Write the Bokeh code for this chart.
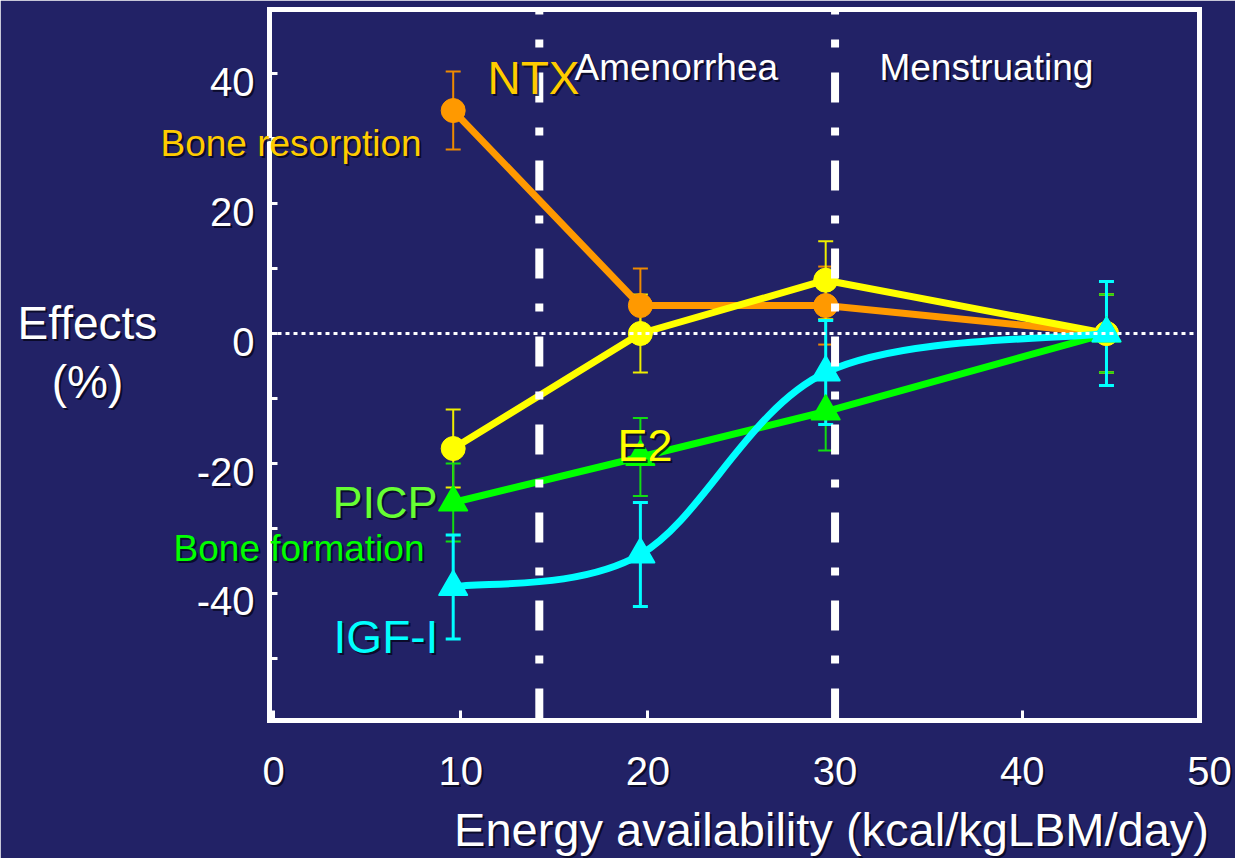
import numpy as np
from bokeh.plotting import figure
from bokeh.layouts import column
from bokeh.models import Range1d, LinearAxis, FixedTicker, Span, Label, ColumnDataSource
from bokeh.embed import file_html
from bokeh.resources import INLINE

# ---------------- data ----------------
energy = [9.6, 19.6, 29.5, 44.5]          # energy availability (kcal/kgLBM/day)
ntx = [34.3, 4.3, 4.3, 0.0]               # NTX (bone resorption) %
ntx_err = [6.0, 5.7, 6.0, 6.0]
e2 = [-17.7, 0.0, 8.2, 0.0]               # E2 %
e2_err = [6.0, 6.0, 6.0, 6.0]
picp = [-26.0, -19.0, -12.0, 0.0]         # PICP (bone formation) %
picp_err = [6.0, 6.0, 6.0, 6.0]
igf1 = [-39.0, -34.0, -6.0, 0.0]          # IGF-I %
igf1_err = [8.0, 8.0, 8.0, 8.0]

phase_bounds = [14.2, 30.0]
phase_labels = ["Amenorrhea", "Menstruating"]
x_ticks = [0, 10, 20, 30, 40, 50]
y_ticks = [-40, -20, 0, 20, 40]
y_minor = [-50, -30, -10, 10, 30]

BG = "#222266"
FONT = "Liberation Sans"
WHITE = "#FFFFFF"
ORANGE = "#FF9900"
YELLOW = "#FFFF00"
GREEN = "#00FF00"
CYAN = "#00FFFF"
SHADOW = "#05051A"

W, H = 1235, 858
BL, BR, BT, BB = 269, 36, 9, 138
X0, X1 = -0.214, 49.47
Y0, Y1 = -59.54, 49.85
XSTAND = 36

p = figure(width=W, height=H,
           x_range=Range1d(X0, X1), y_range=Range1d(Y0, Y1),
           output_backend="svg", toolbar_location=None,
           min_border_left=BL, min_border_right=BR,
           min_border_top=BT, min_border_bottom=BB,
           background_fill_color=BG, border_fill_color=BG,
           outline_line_color=None)
p.grid.visible = False
p.frame_align = False

# data -> canvas pixel (from top-left), used to place texts in the overlay
def px(x):
    return BL + (x - X0) * (W - BL - BR) / (X1 - X0)

def py(y):
    return BT + (Y1 - y) * (H - BT - BB) / (Y1 - Y0)

# ---------------- axes (lines and ticks; tick labels drawn in the overlay) ----------------
xa = p.xaxis[0]
xa.ticker = FixedTicker(ticks=x_ticks[:-1], minor_ticks=[])
ya = p.yaxis[0]
ya.ticker = FixedTicker(ticks=y_ticks, minor_ticks=y_minor)
for ax in (xa, ya):
    ax.axis_line_color = WHITE
    ax.axis_line_width = 5
    ax.axis_line_cap = "square"
    ax.major_tick_line_color = WHITE
    ax.minor_tick_line_color = WHITE
    ax.major_tick_line_width = 3
    ax.minor_tick_line_width = 3
    ax.major_tick_out = 0
    ax.minor_tick_out = 0
    ax.major_label_text_color = None
xa.major_tick_in = 10
ya.major_tick_in = 8
ya.minor_tick_in = 8

for side in ("above", "right"):
    ax = LinearAxis(ticker=FixedTicker(ticks=[], minor_ticks=[]),
                    axis_line_color=WHITE, axis_line_width=5, axis_line_cap="square",
                    major_tick_out=0, minor_tick_out=0, major_tick_in=0, minor_tick_in=0,
                    major_label_standoff=0)
    p.add_layout(ax, side)

# ---------------- error bars ----------------
def errorbars(y, err, color, width, capw):
    lo = [a - b for a, b in zip(y, err)]
    hi = [a + b for a, b in zip(y, err)]
    src = ColumnDataSource(dict(x=energy, lo=lo, hi=hi))
    p.segment(x0="x", y0="lo", x1="x", y1="hi", source=src, line_color=color, line_width=width)
    p.scatter(x="x", y="lo", source=src, marker="dash", size=15, line_color=color, line_width=capw)
    p.scatter(x="x", y="hi", source=src, marker="dash", size=15, line_color=color, line_width=capw)

errorbars(ntx, ntx_err, "#EE8A00", 2, 2)
errorbars(e2, e2_err, "#EEEE00", 2, 2)
errorbars(picp, picp_err, "#11DD11", 2, 2)
errorbars(igf1, igf1_err, CYAN, 3, 3)

# ---------------- series ----------------
p.line(energy, ntx, line_color=ORANGE, line_width=7, line_join="round")
p.scatter(energy, ntx, marker="circle", size=24, fill_color=ORANGE, line_color=ORANGE)

p.line(energy, e2, line_color=YELLOW, line_width=7, line_join="round")
p.scatter(energy, e2, marker="circle", size=24, fill_color=YELLOW, line_color=YELLOW)

p.line(energy, picp, line_color=GREEN, line_width=7, line_join="round")
p.scatter(energy, picp, marker="triangle", size=28, fill_color=GREEN, line_color=GREEN,
          line_join="round", line_width=2)

# IGF-I drawn as a smoothed curve (cubic Bezier through the data points)
pts = np.column_stack([energy, igf1])
prev = np.vstack([pts[:1], pts[:-1]])
nxt = np.vstack([pts[1:], pts[-1:]])
tang = (nxt - prev) / 6.0
c0 = pts[:-1] + tang[:-1]
c1 = pts[1:] - tang[1:]
p.bezier(x0=pts[:-1, 0], y0=pts[:-1, 1], x1=pts[1:, 0], y1=pts[1:, 1],
         cx0=c0[:, 0], cy0=c0[:, 1], cx1=c1[:, 0], cy1=c1[:, 1],
         line_color=CYAN, line_width=7)
p.scatter(energy, igf1, marker="triangle", size=28, fill_color=CYAN, line_color=CYAN,
          line_join="round", line_width=2)

# ---------------- reference lines ----------------
for b in phase_bounds:
    p.add_layout(Span(location=b, dimension="height", line_color=WHITE, line_width=8,
                      line_dash="30 25 8 25", line_dash_offset=25))
p.add_layout(Span(location=0, dimension="width", line_color=WHITE, line_width=3,
                  line_dash="4 4"))

# ---------------- text overlay (a transparent figure on top, in canvas pixels) ----------------
ov = figure(width=W, height=H, x_range=Range1d(0, W), y_range=Range1d(H, 0),
            x_axis_type=None, y_axis_type=None, output_backend="svg",
            toolbar_location=None, min_border=0,
            min_border_left=0, min_border_right=0, min_border_top=0, min_border_bottom=0,
            background_fill_alpha=0, border_fill_alpha=0, outline_line_color=None)
ov.frame_align = False
ov.styles = {"margin-top": f"-{H}px"}

def put_text(text, sxp, syp, size, color, align="left", baseline="middle", bg=None, pad=0):
    kw = dict(x=sxp, y=syp, text=text, text_font=FONT, text_font_size=f"{size}px",
              text_align=align, text_baseline=baseline)
    if bg:
        ov.add_layout(Label(text_color=bg, text_alpha=0.0, background_fill_color=bg,
                            background_fill_alpha=1.0, padding=pad, **kw))
    ov.add_layout(Label(x_offset=2, y_offset=-2, text_color=SHADOW, text_alpha=0.8, **kw))
    ov.add_layout(Label(text_color=color, **kw))

def add_text(text, x, y, size, color, **kw):
    put_text(text, px(x), py(y), size, color, **kw)

# tick labels
for t in x_ticks:
    put_text(str(t), px(t), py(Y0) + XSTAND, 40, WHITE, align="center", baseline="top")
for t in y_ticks:
    put_text(str(t), BL - 15, py(t) + 8, 40, WHITE, align="right")

add_text("Bone resorption", -6.04, 29.3, 37, "#FFCC00", bg=BG, pad=9)
add_text("Bone formation", -5.34, -33.15, 37, "#00FF00", bg=BG, pad=9)
add_text("NTX", 11.43, 39.31, 46, "#FFCC00")
add_text(phase_labels[0], 16.08, 41.0, 37, WHITE)
add_text(phase_labels[1], 32.37, 41.0, 37, WHITE)
add_text("PICP", 3.15, -26.0, 45, "#66FF33")
add_text("IGF-I", 3.21, -46.7, 46, CYAN)
add_text("E2", 18.38, -17.23, 45, YELLOW)
add_text("Effects", -9.94, 1.62, 46, WHITE, align="center")
add_text("(%)", -9.94, -7.4, 46, WHITE, align="center")
add_text("Energy availability (kcal/kgLBM/day)", 29.81, -76.3, 47, WHITE, align="center")

layout = column(p, ov, spacing=0)
html = file_html(layout, INLINE)
html = html.replace("<body>", f'<body style="background-color:{BG};">', 1)
open("out.html", "w").write(html)
